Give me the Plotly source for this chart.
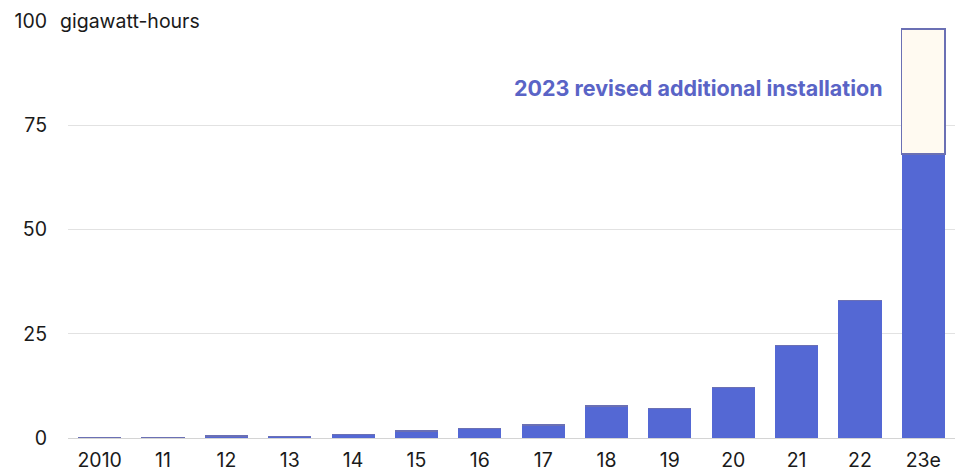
import plotly.graph_objects as go

# Annual installations, gigawatt-hours
years = ["2010", "11", "12", "13", "14", "15", "16", "17", "18", "19", "20", "21", "22", "23e"]
installed = [0.15, 0.2, 0.5, 0.3, 0.8, 1.7, 2.2, 3.1, 7.7, 7.1, 12.1, 22.1, 32.9, 68.1]
revision = [0, 0, 0, 0, 0, 0, 0, 0, 0, 0, 0, 0, 0, 30.0]
y_ticks = [0, 25, 50, 75, 100]
y_ticktext = ["0", "25", "50", "75", "100"]

BLUE = "#5468d4"
FONT = "Inter, Open Sans, sans-serif"
FS = 19.5

fig = go.Figure()
fig.add_trace(go.Bar(
    x=years, y=installed, marker=dict(color=BLUE, line=dict(width=0)),
    hoverinfo="skip", showlegend=False,
))
fig.add_trace(go.Bar(
    x=years, y=revision,
    marker=dict(color="#fffaf1", line=dict(color="#6b70b4", width=1.3)),
    hoverinfo="skip", showlegend=False,
))

fig.add_annotation(
    x=0, xref="paper", xanchor="left", xshift=-13,
    y=100, yref="y", yanchor="middle",
    text="gigawatt-hours", showarrow=False,
    font=dict(family=FONT, size=FS, color="#1a1a1a"),
    bgcolor="white", borderpad=4,
)
fig.add_annotation(
    x="23e", xref="x", xanchor="right", xshift=-38,
    y=84, yref="y", yanchor="middle",
    text="<b>2023 revised additional installation</b>", showarrow=False,
    font=dict(family=FONT, size=21.5, color="#5a64c6"),
)

fig.update_layout(
    width=964, height=475,
    margin=dict(l=68, r=9, t=21, b=37, autoexpand=False),
    barmode="stack", bargap=0.32,
    plot_bgcolor="white", paper_bgcolor="white",
    font=dict(family=FONT, size=FS, color="#1a1a1a"),
    xaxis=dict(
        type="category", showgrid=False, showline=True,
        linecolor="#d4d4d4", linewidth=1, automargin=False,
        ticks="", ticklabelstandoff=5, fixedrange=True,
    ),
    yaxis=dict(
        range=[0, 100], tickvals=y_ticks, ticktext=y_ticktext,
        showgrid=True, gridcolor="#e2e2e2", gridwidth=1, automargin=False,
        zeroline=False, showline=False, ticks="",
        ticklabelstandoff=20, fixedrange=True,
    ),
)

fig.write_html("out.html")
